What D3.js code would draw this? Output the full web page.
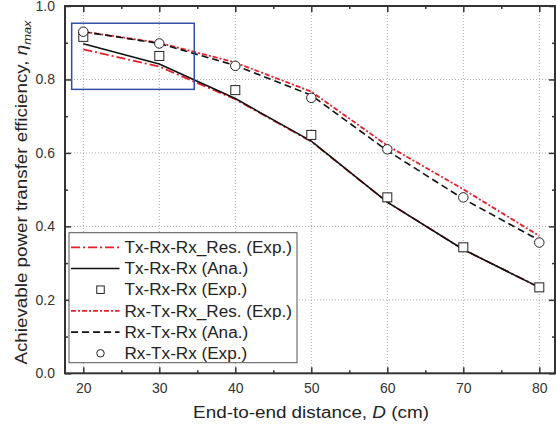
<!DOCTYPE html>
<html>
<head>
<meta charset="utf-8">
<script src="https://cdn.jsdelivr.net/npm/d3@7"></script>
<style>
  body { margin: 0; background: #fff; }
  svg { display: block; font-family: "Liberation Sans", Arial, sans-serif; }
</style>
</head>
<body>
<div id="chart"></div>
<script>
// distances (cm) and efficiency values
const distances = [20, 30, 40, 50, 60, 70, 80];
const txRes = [0.882, 0.835, 0.746, 0.631, 0.466, 0.337, 0.234];
const txAna = [0.897, 0.842, 0.748, 0.632, 0.466, 0.337, 0.234];
const txExp = [0.916, 0.864, 0.771, 0.649, 0.479, 0.343, 0.234];
const rxRes = [0.930, 0.900, 0.846, 0.767, 0.620, 0.501, 0.374];
const rxAna = [0.930, 0.898, 0.838, 0.757, 0.606, 0.475, 0.362];
const rxExp = [0.930, 0.898, 0.837, 0.750, 0.610, 0.479, 0.356];
const xTicks = [20, 30, 40, 50, 60, 70, 80];
const yTicks = [0.0, 0.2, 0.4, 0.6, 0.8, 1.0];
const legendLabels = ["Tx-Rx-Rx_Res. (Exp.)", "Tx-Rx-Rx (Ana.)", "Tx-Rx-Rx (Exp.)",
                      "Rx-Tx-Rx_Res. (Exp.)", "Rx-Tx-Rx (Ana.)", "Rx-Tx-Rx (Exp.)"];
// zoom box region (data units)
const boxX = [18.47, 34.6], boxY = [0.773, 0.953];

const W = 556, H = 429;
const pLeft = 65, pRight = 555, pTop = 6, pBottom = 373.3;

const svg = d3.select("#chart").append("svg")
  .attr("width", W).attr("height", H);

// scales
const x = d3.scaleLinear().domain([20, 80]).range([83.3, 539.3]);
const y = d3.scaleLinear().domain([0, 1]).range([pBottom, pTop]);

// grid
const grid = svg.append("g").attr("stroke", "#aaa").attr("stroke-dasharray", "1,2").attr("stroke-width", 1);
grid.selectAll(".gx").data(xTicks).enter().append("line")
  .attr("x1", d => x(d)).attr("x2", d => x(d)).attr("y1", pTop).attr("y2", pBottom);
grid.selectAll(".gy").data(yTicks.filter(d => d > 0 && d < 1)).enter().append("line")
  .attr("y1", d => y(d)).attr("y2", d => y(d)).attr("x1", pLeft).attr("x2", pRight);

// axes (ticks point inward)
const minorX = d3.range(25, 80, 10);
const minorY = d3.range(0.1, 1, 0.2);
function styleAxis(g) {
  g.select(".domain").remove();
  g.selectAll(".tick line").attr("stroke", "#333").attr("stroke-width", 1.5);
  g.selectAll("text").attr("fill", "#333").style("font-size", "14px")
    .style("font-family", "'Liberation Sans', Arial, sans-serif");
}
svg.append("g").attr("transform", `translate(0,${pBottom})`)
  .call(d3.axisBottom(x).tickValues(xTicks).tickSize(-6).tickPadding(10).tickFormat(d3.format("d")))
  .call(styleAxis);
svg.append("g").attr("transform", `translate(0,${pBottom})`)
  .call(d3.axisBottom(x).tickValues(minorX).tickSize(-3).tickFormat(""))
  .call(styleAxis);
svg.append("g").attr("transform", `translate(0,${pTop})`)
  .call(d3.axisTop(x).tickValues(xTicks).tickSize(-6).tickFormat(""))
  .call(styleAxis);
svg.append("g").attr("transform", `translate(0,${pTop})`)
  .call(d3.axisTop(x).tickValues(minorX).tickSize(-3).tickFormat(""))
  .call(styleAxis);
svg.append("g").attr("transform", `translate(${pLeft},0)`)
  .call(d3.axisLeft(y).tickValues(yTicks).tickSize(-6).tickPadding(10).tickFormat(d3.format(".1f")))
  .call(styleAxis);
svg.append("g").attr("transform", `translate(${pLeft},0)`)
  .call(d3.axisLeft(y).tickValues(minorY).tickSize(-3).tickFormat(""))
  .call(styleAxis);
svg.append("g").attr("transform", `translate(${pRight},0)`)
  .call(d3.axisRight(y).tickValues(yTicks).tickSize(-6).tickFormat(""))
  .call(styleAxis);
svg.append("g").attr("transform", `translate(${pRight},0)`)
  .call(d3.axisRight(y).tickValues(minorY).tickSize(-3).tickFormat(""))
  .call(styleAxis);

// frame
svg.append("rect").attr("x", pLeft).attr("y", pTop)
  .attr("width", pRight - pLeft).attr("height", pBottom - pTop)
  .attr("fill", "none").attr("stroke", "#333").attr("stroke-width", 2);

// series
const series = [
  { name: legendLabels[0], vals: txRes, color: "#e8202a", dash: "9,3,2,3", marker: null },
  { name: legendLabels[1], vals: txAna, color: "#111", dash: null, marker: null },
  { name: legendLabels[2], vals: txExp, color: "#222", dash: null, marker: "square" },
  { name: legendLabels[3], vals: rxRes, color: "#e8202a", dash: "5,2,2,2", marker: null },
  { name: legendLabels[4], vals: rxAna, color: "#111", dash: "7,4", marker: null },
  { name: legendLabels[5], vals: rxExp, color: "#222", dash: null, marker: "circle" }
];

const line = d3.line().x(d => x(d[0])).y(d => y(d[1]));

// red first, black on top
[0, 3, 1, 4].forEach(i => {
  const s = series[i];
  svg.append("path")
    .datum(distances.map((d, j) => [d, s.vals[j]]))
    .attr("d", line)
    .attr("fill", "none")
    .attr("stroke", s.color)
    .attr("stroke-width", s.color === "#111" ? 1.6 : 1.8)
    .attr("stroke-dasharray", s.dash);
});

function drawMarker(g, type, cx, cy, size) {
  if (type === "square") {
    g.append("rect").attr("x", cx - size / 2).attr("y", cy - size / 2)
      .attr("width", size).attr("height", size)
      .attr("fill", "#fff").attr("stroke", "#222").attr("stroke-width", 1);
  } else {
    g.append("circle").attr("cx", cx).attr("cy", cy).attr("r", size / 2)
      .attr("fill", "#fff").attr("stroke", "#222").attr("stroke-width", 1);
  }
}

const marks = svg.append("g");
distances.forEach((d, j) => drawMarker(marks, "square", x(d), y(txExp[j]), 9));
distances.forEach((d, j) => drawMarker(marks, "circle", x(d), y(rxExp[j]), 9.5));

// zoom rectangle
svg.append("rect")
  .attr("x", x(boxX[0])).attr("y", y(boxY[1]))
  .attr("width", x(boxX[1]) - x(boxX[0])).attr("height", y(boxY[0]) - y(boxY[1]))
  .attr("fill", "none").attr("stroke", "#3050a8").attr("stroke-width", 1.5);

// stretch a text horizontally so it spans the given width
function stretch(t, base, width) {
  const w = t.node().getBBox().width;
  t.attr("transform", base + ` scale(${width / w},1)`);
}

// legend
const lg = svg.append("g");
lg.append("rect").attr("x", 69).attr("y", 232.7).attr("width", 228).attr("height", 130)
  .attr("fill", "#fff").attr("stroke", "#555").attr("stroke-width", 1);
let legendK = 1;
series.forEach((s, i) => {
  const cy = 247.3 + i * 21.2;
  if (s.marker) {
    drawMarker(lg, s.marker, 100.5, cy, 7.5);
  } else {
    lg.append("line").attr("x1", 71).attr("x2", 119.5).attr("y1", cy).attr("y2", cy)
      .attr("stroke", s.color).attr("stroke-width", s.color === "#111" ? 1.6 : 1.8)
      .attr("stroke-dasharray", s.dash);
  }
  const t = lg.append("text").attr("x", 0).attr("y", 0).attr("dy", "0.36em")
    .attr("fill", "#222").style("font-size", "16px").text(s.name)
    .attr("transform", `translate(124.5,${cy})`);
  if (i === 1) legendK = 123.7 / t.node().getBBox().width;
  s.textSel = t;
});
series.forEach((s, i) => {
  s.textSel.attr("transform", `translate(124.5,${247.3 + i * 21.2}) scale(${legendK},1)`);
});

// axis titles
const xt = svg.append("text").attr("x", 0).attr("y", 0)
  .attr("text-anchor", "middle").attr("fill", "#222").style("font-size", "16px")
  .call(t => {
    t.append("tspan").text("End-to-end distance, ");
    t.append("tspan").style("font-style", "italic").text("D");
    t.append("tspan").text(" (cm)");
  });
stretch(xt, "translate(311,418)", 236);

const yt = svg.append("text").attr("x", 0).attr("y", 0)
  .attr("text-anchor", "middle").attr("fill", "#222").style("font-size", "16px")
  .call(t => {
    t.append("tspan").text("Achievable power transfer efficiency, ");
    t.append("tspan").style("font-style", "italic").text("\u03b7");
    t.append("tspan").style("font-style", "italic").style("font-size", "11px")
      .attr("dy", 4).text("max");
  });
stretch(yt, "translate(27,192.5) rotate(-90)", 345);
</script>
</body>
</html>
